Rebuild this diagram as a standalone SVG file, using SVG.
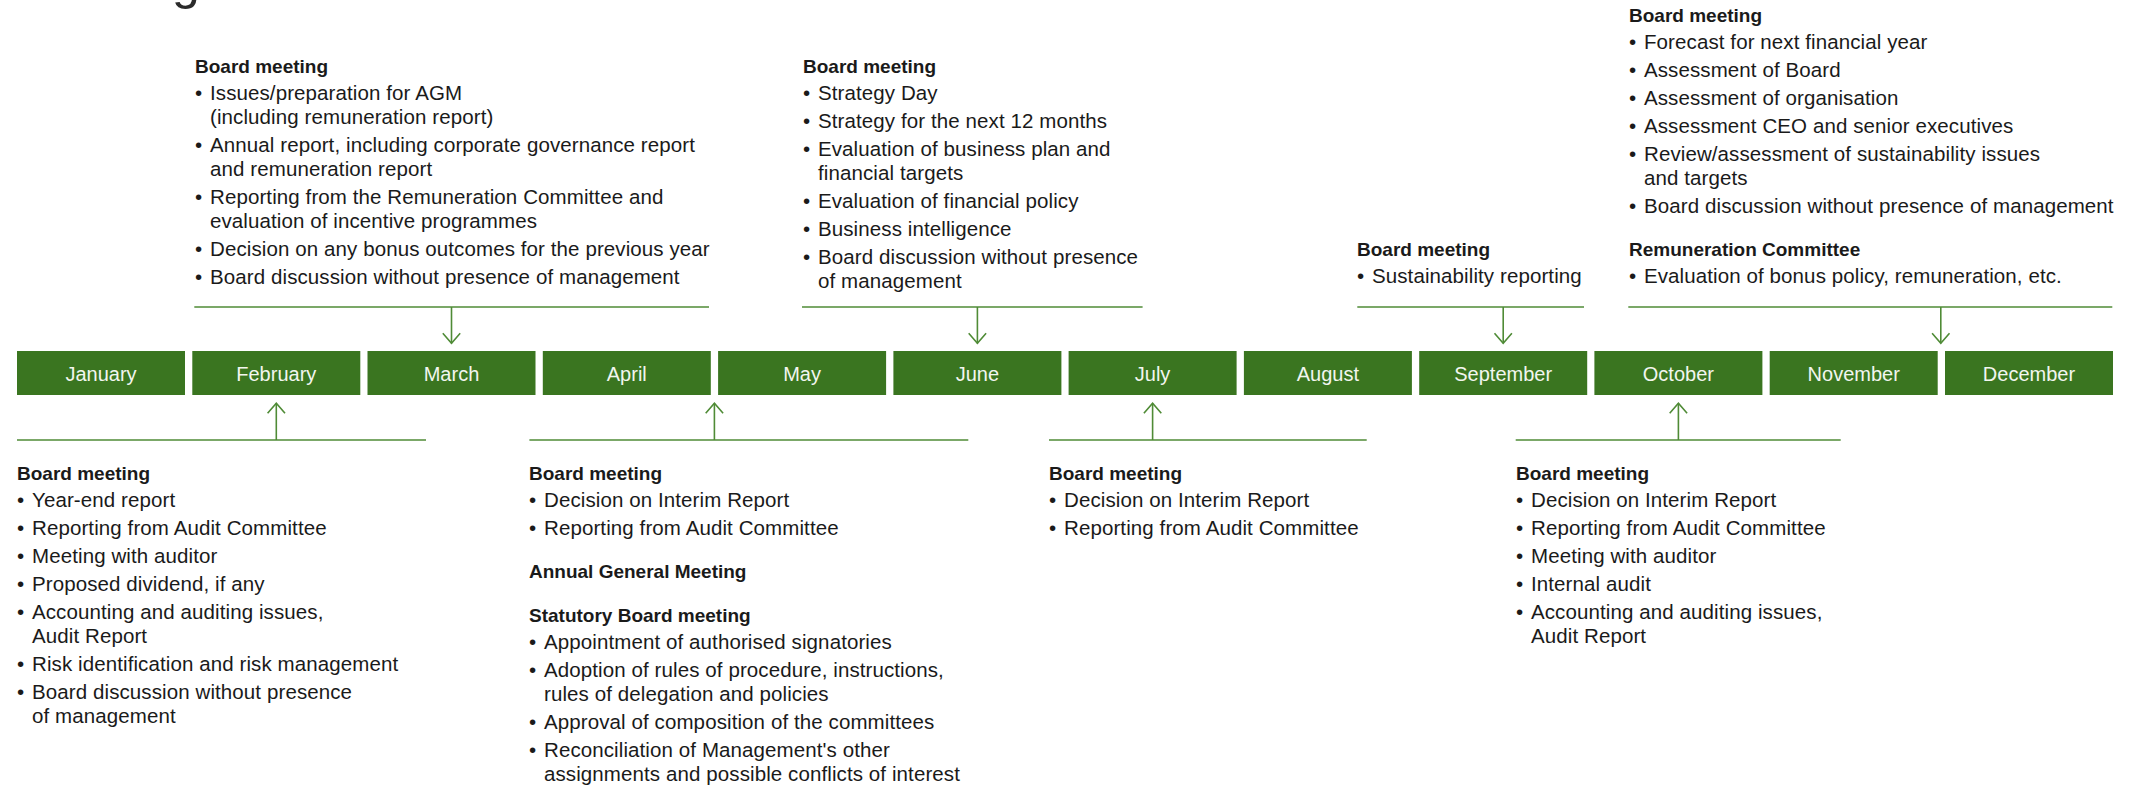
<svg xmlns="http://www.w3.org/2000/svg" width="2134" height="786" viewBox="0 0 2134 786">
  <style>
    .h { font-family: "Liberation Sans", Arial, sans-serif; font-size: 19px; font-weight: bold; fill: #1a1a1a; }
    .b { font-family: "Liberation Sans", Arial, sans-serif; font-size: 20.5px; letter-spacing: 0.1px; fill: #1a1a1a; }
    .m { font-family: "Liberation Sans", Arial, sans-serif; font-size: 20px; fill: #f2f6ef; text-anchor: middle; }
    .bar { fill: #3a7520; }
    .ln { stroke: #4f8b36; stroke-width: 1.6; fill: none; }
    .title { font-family: "Liberation Sans", Arial, sans-serif; font-size: 50px; fill: #2b2b2b; }
  </style>
  <defs>
    <marker id="chev" markerUnits="userSpaceOnUse" viewBox="-2 -11 14 22" refX="10" refY="0" markerWidth="14" markerHeight="22" orient="auto" overflow="visible">
      <path d="M0,-8.7 L10,0 L0,8.7" fill="none" stroke="#4f8b36" stroke-width="1.6"/>
    </marker>
  </defs>

  <!-- heading tail at top edge -->
  <text class="title" x="172" y="-1">g</text>

  <!-- month bar -->
  <g id="months">
    <g id="m-jan"><rect class="bar" x="17" y="351" width="168" height="44"/><text class="m" x="101" y="381">January</text></g>
    <g id="m-feb"><rect class="bar" x="192.3" y="351" width="168" height="44"/><text class="m" x="276.3" y="381">February</text></g>
    <g id="m-mar"><rect class="bar" x="367.5" y="351" width="168" height="44"/><text class="m" x="451.5" y="381">March</text></g>
    <g id="m-apr"><rect class="bar" x="542.8" y="351" width="168" height="44"/><text class="m" x="626.8" y="381">April</text></g>
    <g id="m-may"><rect class="bar" x="718.1" y="351" width="168" height="44"/><text class="m" x="802.1" y="381">May</text></g>
    <g id="m-jun"><rect class="bar" x="893.4" y="351" width="168" height="44"/><text class="m" x="977.4" y="381">June</text></g>
    <g id="m-jul"><rect class="bar" x="1068.6" y="351" width="168" height="44"/><text class="m" x="1152.6" y="381">July</text></g>
    <g id="m-aug"><rect class="bar" x="1243.9" y="351" width="168" height="44"/><text class="m" x="1327.9" y="381">August</text></g>
    <g id="m-sep"><rect class="bar" x="1419.2" y="351" width="168" height="44"/><text class="m" x="1503.2" y="381">September</text></g>
    <g id="m-oct"><rect class="bar" x="1594.4" y="351" width="168" height="44"/><text class="m" x="1678.4" y="381">October</text></g>
    <g id="m-nov"><rect class="bar" x="1769.7" y="351" width="168" height="44"/><text class="m" x="1853.7" y="381">November</text></g>
    <g id="m-dec"><rect class="bar" x="1945" y="351" width="168" height="44"/><text class="m" x="2029" y="381">December</text></g>
  </g>

  <!-- brackets and arrows -->
  <g id="connectors">
    <line class="ln" x1="194.3" y1="307" x2="709" y2="307"/>
    <line class="ln" x1="451.5" y1="307" x2="451.5" y2="343.3" marker-end="url(#chev)"/>
    <line class="ln" x1="802" y1="307" x2="1142.6" y2="307"/>
    <line class="ln" x1="977.4" y1="307" x2="977.4" y2="343.3" marker-end="url(#chev)"/>
    <line class="ln" x1="1357.3" y1="307" x2="1584" y2="307"/>
    <line class="ln" x1="1503.2" y1="307" x2="1503.2" y2="343.3" marker-end="url(#chev)"/>
    <line class="ln" x1="1628.3" y1="307" x2="2112.3" y2="307"/>
    <line class="ln" x1="1940.8" y1="307" x2="1940.8" y2="343.3" marker-end="url(#chev)"/>

    <line class="ln" x1="17" y1="440" x2="426" y2="440"/>
    <line class="ln" x1="276.3" y1="440" x2="276.3" y2="403.3" marker-end="url(#chev)"/>
    <line class="ln" x1="529.4" y1="440" x2="968.3" y2="440"/>
    <line class="ln" x1="714.4" y1="440" x2="714.4" y2="403.3" marker-end="url(#chev)"/>
    <line class="ln" x1="1049" y1="440" x2="1366.7" y2="440"/>
    <line class="ln" x1="1152.6" y1="440" x2="1152.6" y2="403.3" marker-end="url(#chev)"/>
    <line class="ln" x1="1515.7" y1="440" x2="1840.7" y2="440"/>
    <line class="ln" x1="1678.4" y1="440" x2="1678.4" y2="403.3" marker-end="url(#chev)"/>
  </g>

  <!-- March board meeting -->
  <g id="note-march">
    <text class="h" x="195" y="73">Board meeting</text>
    <text class="b">
      <tspan x="195" y="100">•</tspan><tspan x="210" y="100">Issues/preparation for AGM</tspan>
      <tspan x="210" y="124">(including remuneration report)</tspan>
      <tspan x="195" y="152">•</tspan><tspan x="210" y="152">Annual report, including corporate governance report</tspan>
      <tspan x="210" y="176">and remuneration report</tspan>
      <tspan x="195" y="204">•</tspan><tspan x="210" y="204">Reporting from the Remuneration Committee and</tspan>
      <tspan x="210" y="228">evaluation of incentive programmes</tspan>
      <tspan x="195" y="256">•</tspan><tspan x="210" y="256">Decision on any bonus outcomes for the previous year</tspan>
      <tspan x="195" y="284">•</tspan><tspan x="210" y="284">Board discussion without presence of management</tspan>
    </text>
  </g>

  <!-- June board meeting -->
  <g id="note-june">
    <text class="h" x="803" y="73">Board meeting</text>
    <text class="b">
      <tspan x="803" y="100">•</tspan><tspan x="818" y="100">Strategy Day</tspan>
      <tspan x="803" y="128">•</tspan><tspan x="818" y="128">Strategy for the next 12 months</tspan>
      <tspan x="803" y="156">•</tspan><tspan x="818" y="156">Evaluation of business plan and</tspan>
      <tspan x="818" y="180">financial targets</tspan>
      <tspan x="803" y="208">•</tspan><tspan x="818" y="208">Evaluation of financial policy</tspan>
      <tspan x="803" y="236">•</tspan><tspan x="818" y="236">Business intelligence</tspan>
      <tspan x="803" y="264">•</tspan><tspan x="818" y="264">Board discussion without presence</tspan>
      <tspan x="818" y="288">of management</tspan>
    </text>
  </g>

  <!-- September board meeting -->
  <g id="note-september">
    <text class="h" x="1357" y="256">Board meeting</text>
    <text class="b">
      <tspan x="1357" y="283">•</tspan><tspan x="1372" y="283">Sustainability reporting</tspan>
    </text>
  </g>

  <!-- December board meeting and remuneration committee -->
  <g id="note-december">
    <text class="h" x="1629" y="22">Board meeting</text>
    <text class="b">
      <tspan x="1629" y="49">•</tspan><tspan x="1644" y="49">Forecast for next financial year</tspan>
      <tspan x="1629" y="77">•</tspan><tspan x="1644" y="77">Assessment of Board</tspan>
      <tspan x="1629" y="105">•</tspan><tspan x="1644" y="105">Assessment of organisation</tspan>
      <tspan x="1629" y="133">•</tspan><tspan x="1644" y="133">Assessment CEO and senior executives</tspan>
      <tspan x="1629" y="161">•</tspan><tspan x="1644" y="161">Review/assessment of sustainability issues</tspan>
      <tspan x="1644" y="185">and targets</tspan>
      <tspan x="1629" y="213">•</tspan><tspan x="1644" y="213">Board discussion without presence of management</tspan>
    </text>
    <text class="h" x="1629" y="256">Remuneration Committee</text>
    <text class="b">
      <tspan x="1629" y="283">•</tspan><tspan x="1644" y="283">Evaluation of bonus policy, remuneration, etc.</tspan>
    </text>
  </g>

  <!-- February board meeting -->
  <g id="note-february">
    <text class="h" x="17" y="480">Board meeting</text>
    <text class="b">
      <tspan x="17" y="507">•</tspan><tspan x="32" y="507">Year-end report</tspan>
      <tspan x="17" y="535">•</tspan><tspan x="32" y="535">Reporting from Audit Committee</tspan>
      <tspan x="17" y="563">•</tspan><tspan x="32" y="563">Meeting with auditor</tspan>
      <tspan x="17" y="591">•</tspan><tspan x="32" y="591">Proposed dividend, if any</tspan>
      <tspan x="17" y="619">•</tspan><tspan x="32" y="619">Accounting and auditing issues,</tspan>
      <tspan x="32" y="643">Audit Report</tspan>
      <tspan x="17" y="671">•</tspan><tspan x="32" y="671">Risk identification and risk management</tspan>
      <tspan x="17" y="699">•</tspan><tspan x="32" y="699">Board discussion without presence</tspan>
      <tspan x="32" y="723">of management</tspan>
    </text>
  </g>

  <!-- April/May meetings -->
  <g id="note-april">
    <text class="h" x="529" y="480">Board meeting</text>
    <text class="b">
      <tspan x="529" y="507">•</tspan><tspan x="544" y="507">Decision on Interim Report</tspan>
      <tspan x="529" y="535">•</tspan><tspan x="544" y="535">Reporting from Audit Committee</tspan>
    </text>
    <text class="h" x="529" y="578">Annual General Meeting</text>
    <text class="h" x="529" y="622">Statutory Board meeting</text>
    <text class="b">
      <tspan x="529" y="649">•</tspan><tspan x="544" y="649">Appointment of authorised signatories</tspan>
      <tspan x="529" y="677">•</tspan><tspan x="544" y="677">Adoption of rules of procedure, instructions,</tspan>
      <tspan x="544" y="701">rules of delegation and policies</tspan>
      <tspan x="529" y="729">•</tspan><tspan x="544" y="729">Approval of composition of the committees</tspan>
      <tspan x="529" y="757">•</tspan><tspan x="544" y="757">Reconciliation of Management's other</tspan>
      <tspan x="544" y="781">assignments and possible conflicts of interest</tspan>
    </text>
  </g>

  <!-- July board meeting -->
  <g id="note-july">
    <text class="h" x="1049" y="480">Board meeting</text>
    <text class="b">
      <tspan x="1049" y="507">•</tspan><tspan x="1064" y="507">Decision on Interim Report</tspan>
      <tspan x="1049" y="535">•</tspan><tspan x="1064" y="535">Reporting from Audit Committee</tspan>
    </text>
  </g>

  <!-- October board meeting -->
  <g id="note-october">
    <text class="h" x="1516" y="480">Board meeting</text>
    <text class="b">
      <tspan x="1516" y="507">•</tspan><tspan x="1531" y="507">Decision on Interim Report</tspan>
      <tspan x="1516" y="535">•</tspan><tspan x="1531" y="535">Reporting from Audit Committee</tspan>
      <tspan x="1516" y="563">•</tspan><tspan x="1531" y="563">Meeting with auditor</tspan>
      <tspan x="1516" y="591">•</tspan><tspan x="1531" y="591">Internal audit</tspan>
      <tspan x="1516" y="619">•</tspan><tspan x="1531" y="619">Accounting and auditing issues,</tspan>
      <tspan x="1531" y="643">Audit Report</tspan>
    </text>
  </g>
</svg>
